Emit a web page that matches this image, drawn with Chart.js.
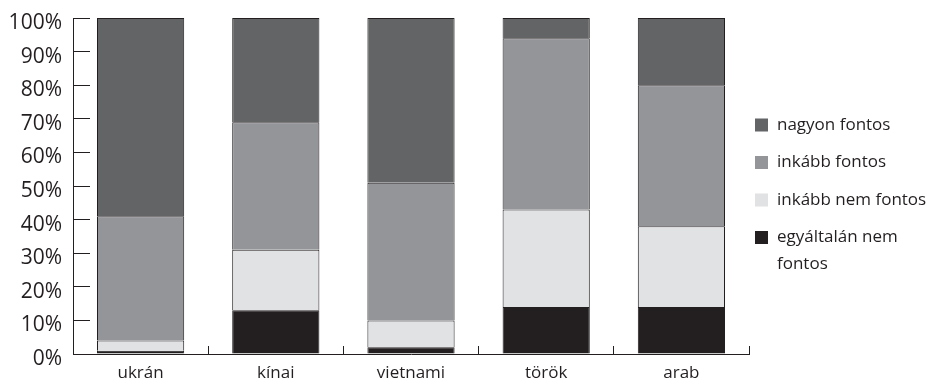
<!DOCTYPE html>
<html>
<head>
<meta charset="utf-8">
<script src="https://cdn.jsdelivr.net/npm/chart.js@4"></script>
<style>
    html, body { margin: 0; padding: 0; background: #ffffff; }
    #wrap { width: 930px; height: 384px; }
</style>
</head>
<body>
<div id="wrap"><canvas id="importanceChart" width="930" height="384"></canvas></div>
<script>
// Categories and series values (percent)
const categories = ['ukrán', 'kínai', 'vietnami', 'török', 'arab'];

const egyaltalanNem = [1, 13, 2, 14, 14];
const inkabbNem = [3, 18, 8, 29, 24];
const inkabbFontos = [37, 38, 41, 51, 42];
const nagyonFontos = [59, 31, 49, 6, 20];

const seriesLabels = ['egyáltalán nem fontos', 'inkább nem fontos', 'inkább fontos', 'nagyon fontos'];
const legendLines = [['egyáltalán nem', 'fontos'], ['inkább nem fontos'], ['inkább fontos'], ['nagyon fontos']];
const seriesColors = ['#231f20', '#e1e2e4', '#939598', '#636466'];

const FONT = '"Open Sans", "Noto Sans", sans-serif';
const TEXT = '#231f20';

// Legend on the right, top item is the top of the stack
const sideLegend = {
    id: 'sideLegend',
    afterDraw(chart) {
        const c = chart.ctx;
        const area = chart.chartArea;
        const ds = chart.data.datasets;
        c.save();
        c.font = '17px ' + FONT;
        c.textBaseline = 'middle';
        c.textAlign = 'left';
        let cy = 125;
        for (let i = ds.length - 1; i >= 0; i--) {
            c.fillStyle = ds[i].backgroundColor;
            c.fillRect(area.right + 6, cy - 6.5, 13, 13);
            c.fillStyle = TEXT;
            legendLines[i].forEach(function(line, k) {
                c.fillText(line, area.right + 28, cy + k * 27);
            });
            cy += 37.5;
        }
        c.restore();
    }
};

const ctx = document.getElementById('importanceChart').getContext('2d');
new Chart(ctx, {
    type: 'bar',
    data: {
        labels: categories,
        datasets: [
            { label: seriesLabels[0], data: egyaltalanNem, backgroundColor: seriesColors[0] },
            { label: seriesLabels[1], data: inkabbNem, backgroundColor: seriesColors[1] },
            { label: seriesLabels[2], data: inkabbFontos, backgroundColor: seriesColors[2] },
            { label: seriesLabels[3], data: nagyonFontos, backgroundColor: seriesColors[3] }
        ].map(function(d) {
            d.borderColor = '#231f20';
            d.borderWidth = 1;
            d.barPercentage = 0.645;
            d.categoryPercentage = 1;
            return d;
        })
    },
    options: {
        responsive: false,
        animation: false,
        layout: { padding: { top: 18, right: 181, left: 0, bottom: 0 } },
        plugins: {
            legend: { display: false },
            tooltip: { enabled: false }
        },
        scales: {
            x: {
                stacked: true,
                // negative tick length draws the marks inside the plot
                grid: { drawOnChartArea: false, drawTicks: true, tickLength: -8, color: TEXT, offset: true },
                border: { display: true, color: TEXT, width: 1 },
                ticks: { color: TEXT, font: { family: FONT, size: 17 }, padding: 17 },
                afterFit: function(scale) {
                    scale.height = 30;
                    scale.paddingLeft = 0;
                    scale.paddingRight = 0;
                }
            },
            y: {
                stacked: true,
                min: 0,
                max: 100,
                grid: { drawOnChartArea: false, drawTicks: true, tickLength: -17, color: TEXT },
                border: { display: true, color: TEXT, width: 1 },
                ticks: {
                    stepSize: 10,
                    color: TEXT,
                    padding: 28,
                    labelOffset: 5,
                    font: { family: FONT, size: 21 },
                    callback: function(v) { return v + '%'; }
                },
                afterFit: function(scale) {
                    scale.width = 73;
                    scale.paddingTop = 0;
                    scale.paddingBottom = 0;
                }
            }
        }
    },
    plugins: [sideLegend]
});
</script>
</body>
</html>
